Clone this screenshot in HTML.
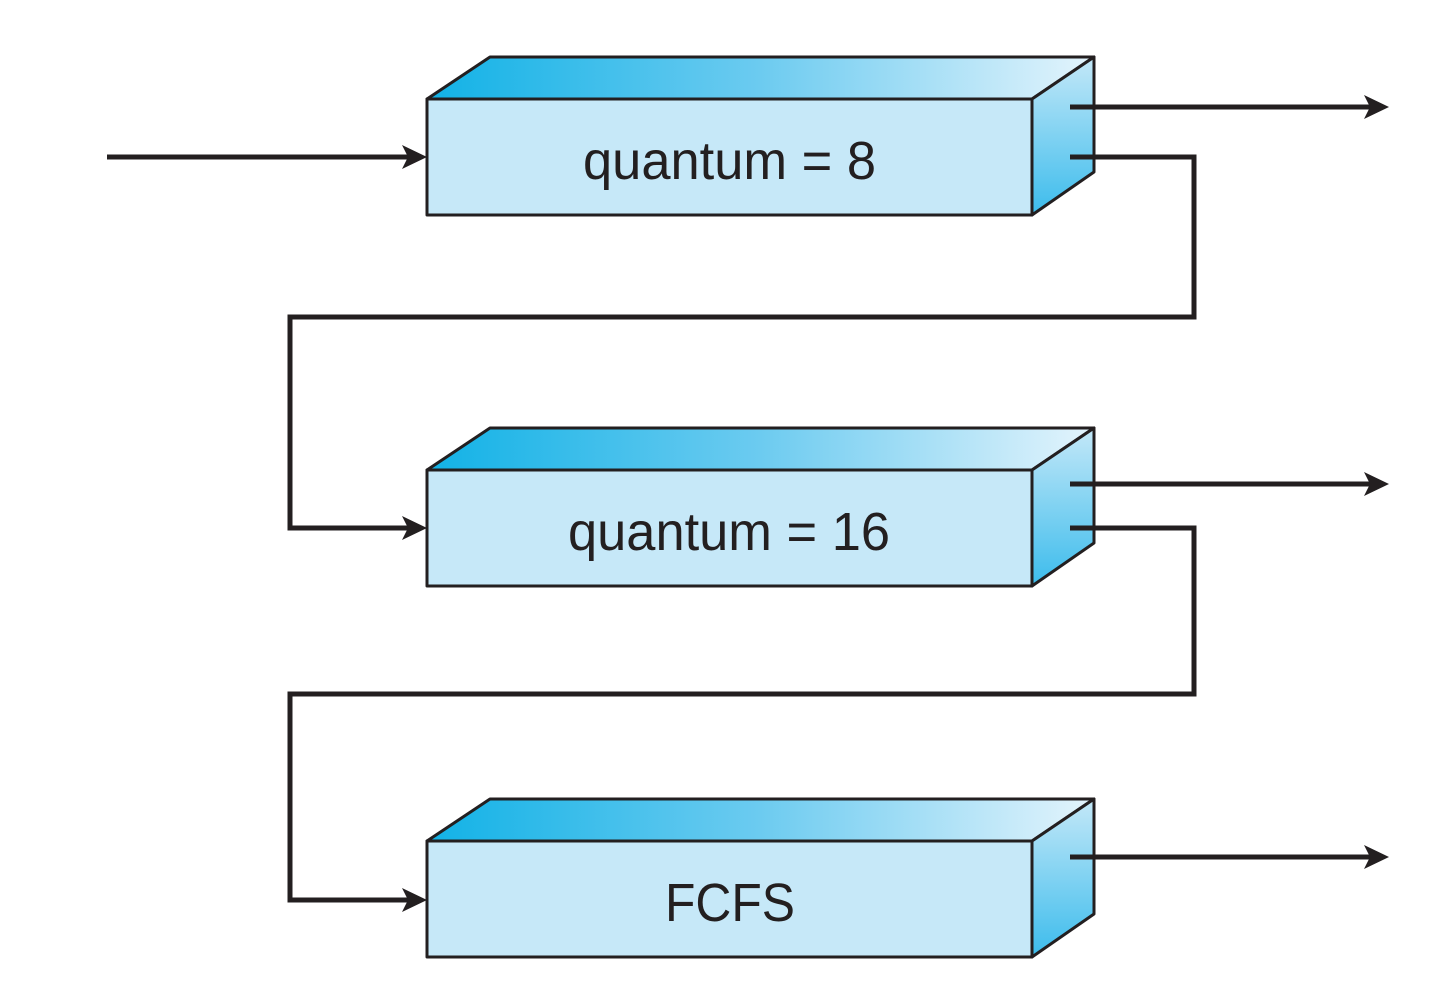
<!DOCTYPE html>
<html><head><meta charset="utf-8"><style>
html,body{margin:0;padding:0;background:#fff;}
svg{display:block;}
text{font-family:"Liberation Sans Narrow","Liberation Sans",sans-serif;fill:#231f20;}
</style></head><body>
<svg width="1442" height="999" viewBox="0 0 1442 999" xmlns="http://www.w3.org/2000/svg">
<defs>
<linearGradient id="top" x1="0" y1="0" x2="1" y2="0">
<stop offset="0" stop-color="#12b2e6"/><stop offset="0.5" stop-color="#6ccbf0"/><stop offset="1" stop-color="#e4f4fc"/>
</linearGradient>
<linearGradient id="side" x1="0" y1="0" x2="0" y2="1">
<stop offset="0" stop-color="#c4e8f8"/><stop offset="1" stop-color="#3cbcec"/>
</linearGradient>
</defs>
<g stroke="#231f20" stroke-width="3" stroke-linejoin="round">
<g>
<polygon points="427,99 490,57 1094,57 1032,99" fill="url(#top)"/>
<polygon points="1032,99 1094,57 1094,172 1032,215" fill="url(#side)"/>
<rect x="427" y="99" width="605" height="116" fill="#c6e8f8"/>
</g>
<g transform="translate(0,371)">
<polygon points="427,99 490,57 1094,57 1032,99" fill="url(#top)"/>
<polygon points="1032,99 1094,57 1094,172 1032,215" fill="url(#side)"/>
<rect x="427" y="99" width="605" height="116" fill="#c6e8f8"/>
</g>
<g transform="translate(0,742)">
<polygon points="427,99 490,57 1094,57 1032,99" fill="url(#top)"/>
<polygon points="1032,99 1094,57 1094,172 1032,215" fill="url(#side)"/>
<rect x="427" y="99" width="605" height="116" fill="#c6e8f8"/>
</g>
</g>
<g stroke="#231f20" stroke-width="5" fill="none">
<polyline points="107,157 410,157"/>
<polyline points="1070,107 1370,107"/>
<polyline points="1070,157 1194,157 1194,317 290,317 290,528 410,528"/>
<polyline points="1070,484 1370,484"/>
<polyline points="1070,528 1194,528 1194,694 290,694 290,900 410,900"/>
<polyline points="1070,857 1370,857"/>
</g>
<g fill="#231f20">
<polygon points="427,157 402,145 408,157 402,169"/>
<polygon points="427,528 402,516 408,528 402,540"/>
<polygon points="427,900 402,888 408,900 402,912"/>
<polygon points="1389,107 1364,95 1370,107 1364,119"/>
<polygon points="1389,484 1364,472 1370,484 1364,496"/>
<polygon points="1389,857 1364,845 1370,857 1364,869"/>
</g>
<text x="583" y="179" font-size="54" textLength="293" lengthAdjust="spacingAndGlyphs">quantum = 8</text>
<text x="568" y="550" font-size="54" textLength="322" lengthAdjust="spacingAndGlyphs">quantum = 16</text>
<text x="665" y="921" font-size="54" textLength="130" lengthAdjust="spacingAndGlyphs">FCFS</text>
</svg>
</body></html>
